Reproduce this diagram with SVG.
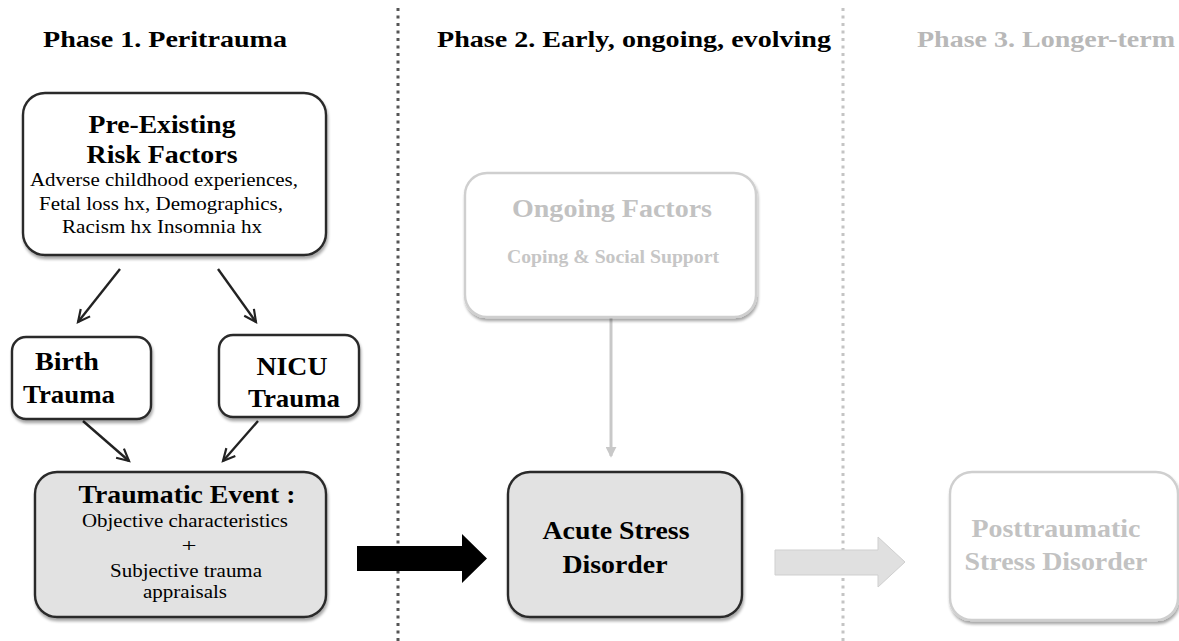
<svg xmlns="http://www.w3.org/2000/svg" width="1179" height="641" viewBox="0 0 1179 641">
  <defs>
    <style>
      text { font-family: "Liberation Serif", "Times New Roman", serif; text-anchor: middle; }
      .head { font-size: 24px; font-weight: bold; fill: #000; }
      .head.dim { fill: #b8b8b8; }
      .title { font-size: 25px; font-weight: bold; fill: #000; }
      .title.dim { fill: #c2c2c2; }
      .body { font-size: 19px; fill: #000; }
      .body.dim { font-weight: bold; font-size: 18px; fill: #c6c6c6; }
      .box { fill: #fff; stroke: #2b2b2b; stroke-width: 2.4; filter: url(#shadow); }
      .box.shaded { fill: #e2e2e2; }
      .box.dim { stroke: #cfcfcf; }
      .divider { stroke: #555; stroke-width: 3; stroke-dasharray: 3 4.5; }
      .divider.dim { stroke: #c4c4c4; }
      .conn { stroke: #222; stroke-width: 2.4; fill: none; marker-end: url(#head); }
      .conn.dim { stroke: #c8c8c8; stroke-width: 3; marker-end: url(#headDim); }
    </style>
    <filter id="shadow" x="-10%" y="-10%" width="125%" height="130%">
      <feGaussianBlur in="SourceAlpha" stdDeviation="1.5"/>
      <feOffset dx="1" dy="2.5" result="blur"/>
      <feComponentTransfer><feFuncA type="linear" slope="0.35"/></feComponentTransfer>
      <feMerge><feMergeNode/><feMergeNode in="SourceGraphic"/></feMerge>
    </filter>
    <marker id="head" viewBox="0 0 12 12" refX="11" refY="6" markerWidth="13" markerHeight="13" markerUnits="userSpaceOnUse" orient="auto" overflow="visible">
      <path d="M0,0.5 L11,6 L0,11.5" fill="none" stroke="#222" stroke-width="2"/>
    </marker>
    <marker id="headDim" viewBox="0 0 12 12" refX="10" refY="6" markerWidth="11" markerHeight="11" markerUnits="userSpaceOnUse" orient="auto">
      <path d="M0,0 L12,6 L0,12 Z" fill="#c8c8c8"/>
    </marker>
  </defs>

  <rect width="1179" height="641" fill="#fff"/>

  <!-- phase dividers -->
  <line class="divider" x1="398" y1="8" x2="398" y2="641"/>
  <line class="divider dim" x1="843" y1="8" x2="843" y2="641"/>

  <!-- phase headings -->
  <text class="head" x="165" y="47" textLength="244" lengthAdjust="spacingAndGlyphs">Phase 1. Peritrauma</text>
  <text class="head" x="634" y="47" textLength="394" lengthAdjust="spacingAndGlyphs">Phase 2. Early, ongoing, evolving</text>
  <text class="head dim" x="1046" y="47" textLength="258" lengthAdjust="spacingAndGlyphs">Phase 3. Longer-term</text>

  <!-- connectors -->
  <g id="connectors">
    <line class="conn" x1="120" y1="269" x2="78" y2="322"/>
    <line class="conn" x1="218" y1="269" x2="256" y2="322"/>
    <line class="conn" x1="83" y1="421" x2="129" y2="461"/>
    <line class="conn" x1="258" y1="421" x2="223" y2="461"/>
    <line class="conn dim" x1="611" y1="318" x2="611" y2="456"/>
    <!-- block arrow: peritrauma to acute -->
    <polygon points="357,546 462,546 462,534 487,558.5 462,583 462,571 357,571" fill="#000"/>
    <!-- block arrow: acute to longer-term -->
    <polygon points="775,550 878,550 878,537 905,562 878,587 878,575 775,575" fill="#e0e0e0" stroke="#cfcfcf" stroke-width="1"/>
  </g>

  <g id="pre-existing">
    <rect class="box" x="23" y="93" width="303" height="162" rx="22"/>
    <text class="title" x="162" y="133" textLength="147" lengthAdjust="spacingAndGlyphs">Pre-Existing</text>
    <text class="title" x="162" y="163" textLength="151" lengthAdjust="spacingAndGlyphs">Risk Factors</text>
    <text class="body" x="164" y="186" textLength="268" lengthAdjust="spacingAndGlyphs">Adverse childhood experiences,</text>
    <text class="body" x="161" y="210" textLength="244" lengthAdjust="spacingAndGlyphs">Fetal loss hx, Demographics,</text>
    <text class="body" x="162" y="233" textLength="200" lengthAdjust="spacingAndGlyphs">Racism hx Insomnia hx</text>
  </g>

  <g id="birth-trauma">
    <rect class="box" x="12" y="337" width="139" height="82" rx="14"/>
    <text class="title" x="67" y="370" textLength="64" lengthAdjust="spacingAndGlyphs">Birth</text>
    <text class="title" x="69" y="403" textLength="92" lengthAdjust="spacingAndGlyphs">Trauma</text>
  </g>

  <g id="nicu-trauma">
    <rect class="box" x="219" y="335" width="140" height="82" rx="14"/>
    <text class="title" x="292" y="375" textLength="71" lengthAdjust="spacingAndGlyphs">NICU</text>
    <text class="title" x="294" y="407" textLength="92" lengthAdjust="spacingAndGlyphs">Trauma</text>
  </g>

  <g id="traumatic-event">
    <rect class="box shaded" x="35" y="472" width="291" height="145" rx="22"/>
    <text class="title" x="187" y="503" textLength="217" lengthAdjust="spacingAndGlyphs">Traumatic Event :</text>
    <text class="body" x="185" y="527" textLength="206" lengthAdjust="spacingAndGlyphs">Objective characteristics</text>
    <text class="body" x="189" y="552" textLength="15" lengthAdjust="spacingAndGlyphs">+</text>
    <text class="body" x="186" y="577" textLength="152" lengthAdjust="spacingAndGlyphs">Subjective trauma</text>
    <text class="body" x="185" y="598" textLength="84" lengthAdjust="spacingAndGlyphs">appraisals</text>
  </g>

  <g id="ongoing-factors">
    <rect class="box dim" x="465" y="173" width="291" height="144" rx="22"/>
    <text class="title dim" x="612" y="217" textLength="200" lengthAdjust="spacingAndGlyphs">Ongoing Factors</text>
    <text class="body dim" x="613" y="263" textLength="212" lengthAdjust="spacingAndGlyphs">Coping &amp; Social Support</text>
  </g>

  <g id="acute-stress">
    <rect class="box shaded" x="508" y="472" width="234" height="145" rx="22"/>
    <text class="title" x="616" y="539" textLength="147" lengthAdjust="spacingAndGlyphs">Acute Stress</text>
    <text class="title" x="615" y="573" textLength="105" lengthAdjust="spacingAndGlyphs">Disorder</text>
  </g>

  <g id="ptsd">
    <rect class="box dim" x="950" y="472" width="228" height="148" rx="22"/>
    <text class="title dim" x="1056" y="537" textLength="169" lengthAdjust="spacingAndGlyphs">Posttraumatic</text>
    <text class="title dim" x="1056" y="570" textLength="183" lengthAdjust="spacingAndGlyphs">Stress Disorder</text>
  </g>
</svg>
